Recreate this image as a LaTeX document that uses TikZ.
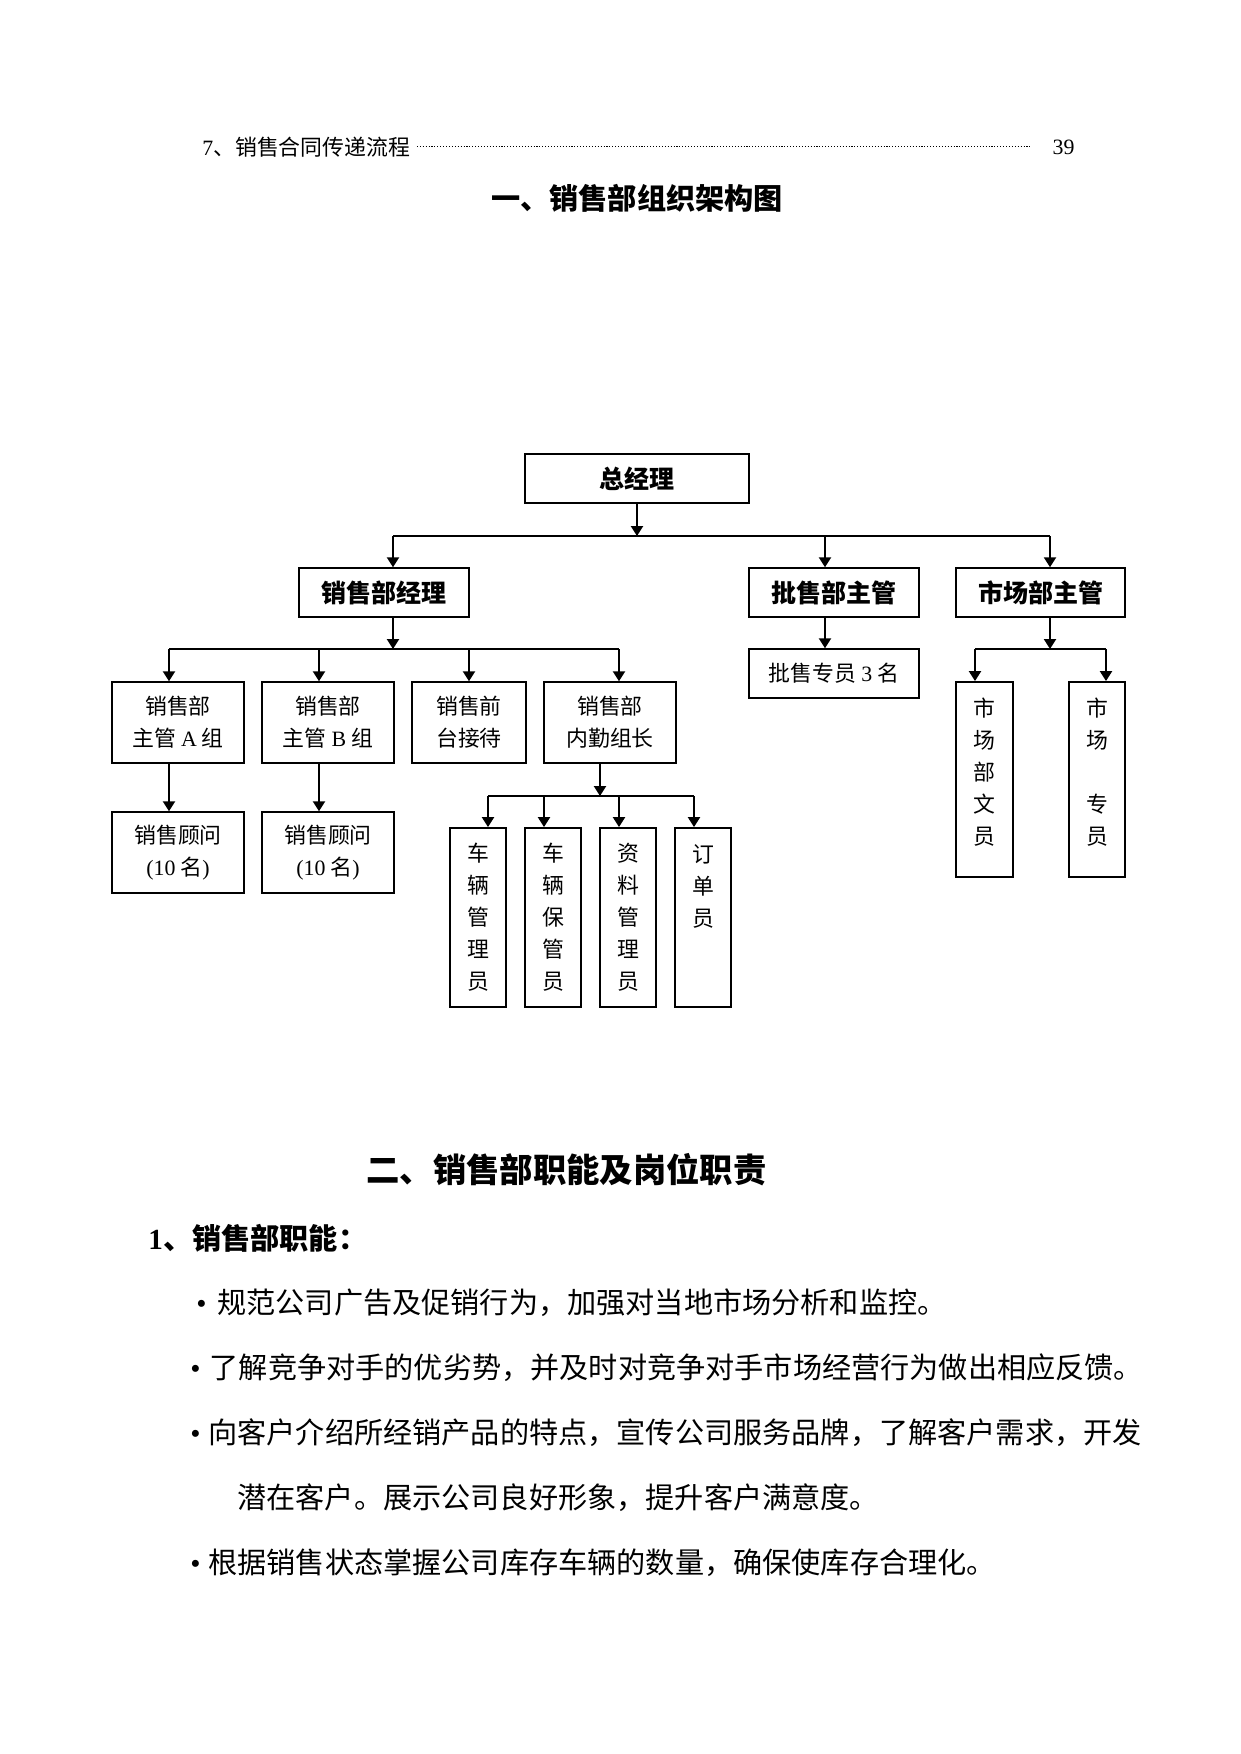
\documentclass[tikz,border=0pt]{standalone}
\usepackage{fontspec}
\setmainfont{Noto Sans CJK SC}
\newfontfamily\lat{Liberation Serif}
\usetikzlibrary{arrows.meta}
\begin{document}
\begin{tikzpicture}[x=0.48pt,y=-0.48pt,
 wh/.style 2 args={minimum width=#1*0.48pt,minimum height=#2*0.48pt},
 bx/.style={draw,line width=0.72pt,inner sep=0pt,align=center,font=\fontsize{10.5pt}{15.36pt}\selectfont},
 bbx/.style={bx,font=\fontsize{12pt}{14pt}\selectfont\bfseries},
 ln/.style={line width=0.96pt},
 arr/.style={ln,-{Triangle[length=4.8pt,width=5.8pt]}},
 body/.style={anchor=west,inner sep=0pt,font=\fontsize{14pt}{16pt}\selectfont}]
\useasboundingbox (0,0) rectangle (1241,1754);
\fill[white] (0,0) rectangle (1241,1754);

% header
\node[anchor=west,inner sep=0pt,font=\fontsize{10.5pt}{12pt}\selectfont] (h1) at (202,147) {{\lat 7}、销售合同传递流程};
\node[anchor=east,inner sep=0pt,font=\fontsize{10.5pt}{12pt}\selectfont] (h2) at (1075,147) {\lat 39};
\draw[line width=0.6pt,dash pattern=on 0.5pt off 0.9pt] ([xshift=3pt,yshift=0.3pt]h1.east) -- ([xshift=-10.5pt,yshift=0.3pt]h2.west);

% title
\node[inner sep=0pt,font=\fontsize{14pt}{16pt}\selectfont\bfseries] (t1) at (637,198) {一、销售部组织架构图};

% org chart boxes
\node[bbx,wh={224}{49}] (zjl) at (637,478.5) {总经理};
\node[bbx,wh={170}{49}] (xsjl) at (384,592.5) {销售部经理};
\node[bbx,wh={170}{49}] (pszg) at (834,592.5) {批售部主管};
\node[bbx,wh={169}{49}] (sczg) at (1040.5,592.5) {市场部主管};
\node[bx,wh={170}{49}] (psy) at (834,673.5) {批售专员 {\lat 3} 名};
\node[bx,wh={132}{81}] (zgA) at (178,722.5) {销售部\\主管 {\lat A} 组};
\node[bx,wh={132}{81}] (zgB) at (328,722.5) {销售部\\主管 {\lat B} 组};
\node[bx,wh={114}{81}] (qt) at (469,722.5) {销售前\\台接待};
\node[bx,wh={132}{81}] (nq) at (610,722.5) {销售部\\内勤组长};
\node[bx,wh={132}{81}] (gwA) at (178,852.5) {销售顾问\\{\lat (10} 名{\lat )}};
\node[bx,wh={132}{81}] (gwB) at (328,852.5) {销售顾问\\{\lat (10} 名{\lat )}};
\node[bx,wh={56}{179},line width=0.9pt] (v1) at (478,917.5) {车\\辆\\管\\理\\员};
\node[bx,wh={56}{179},line width=0.9pt] (v2) at (553,917.5) {车\\辆\\保\\管\\员};
\node[bx,wh={56}{179},line width=0.9pt] (v3) at (628,917.5) {资\\料\\管\\理\\员};
\node[bx,wh={56}{179},line width=0.9pt] (v4) at (703,917.5) {订\\单\\员\\\mbox{}\\\mbox{}};
\node[bx,wh={57}{195},line width=0.9pt,text depth=8pt] (m1) at (984.5,779.5) {市\\场\\部\\文\\员};
\node[bx,wh={56}{195},line width=0.9pt,text depth=8pt] (m2) at (1097,779.5) {市\\场\\\mbox{}\\专\\员};

% junction coordinates
\coordinate (b1L) at (393,536);
\coordinate (b1P) at (825,536);
\coordinate (b1R) at (1050,536);
\coordinate (b2A) at (169,649);
\coordinate (b2B) at (319,649);
\coordinate (b2Q) at (469,649);
\coordinate (b2N) at (619,649);
\coordinate (b2S) at (393,649);
\coordinate (b3S) at (600,796);
\coordinate (b3a) at (488,796);
\coordinate (b3b) at (544,796);
\coordinate (b3c) at (619,796);
\coordinate (b3d) at (694,796);
\coordinate (b4S) at (1050,649);
\coordinate (b4a) at (975,649);
\coordinate (b4b) at (1106,649);

% level 1
\draw[arr] (zjl.south) -- (zjl.south |- b1L);
\draw[ln] (b1L) -- (b1R);
\draw[arr] (b1L) -- (b1L |- xsjl.north);
\draw[arr] (b1P) -- (b1P |- pszg.north);
\draw[arr] (b1R) -- (b1R |- sczg.north);

% sales manager branch
\draw[arr] (b1L |- xsjl.south) -- (b2S);
\draw[ln] (b2A) -- (b2N);
\draw[arr] (b2A) -- (b2A |- zgA.north);
\draw[arr] (b2B) -- (b2B |- zgB.north);
\draw[arr] (b2Q) -- (b2Q |- qt.north);
\draw[arr] (b2N) -- (b2N |- nq.north);
\draw[arr] (b2A |- zgA.south) -- (b2A |- gwA.north);
\draw[arr] (b2B |- zgB.south) -- (b2B |- gwB.north);

% internal branch
\draw[arr] (b3S |- nq.south) -- (b3S);
\draw[ln] (b3a) -- (b3d);
\draw[arr] (b3a) -- (b3a |- v1.north);
\draw[arr] (b3b) -- (b3b |- v2.north);
\draw[arr] (b3c) -- (b3c |- v3.north);
\draw[arr] (b3d) -- (b3d |- v4.north);

% wholesale
\draw[arr] (b1P |- pszg.south) -- (b1P |- psy.north);

% market
\draw[arr] (b4S |- sczg.south) -- (b4S);
\draw[ln] (b4a) -- (b4b);
\draw[arr] (b4a) -- (b4a |- m1.north);
\draw[arr] (b4b) -- (b4b |- m2.north);

% section 2
\node[anchor=west,inner sep=0pt,font=\fontsize{16pt}{18pt}\selectfont\bfseries] (t2) at (366,1170) {二、销售部职能及岗位职责};
\node[anchor=west,inner sep=0pt,font=\fontsize{14pt}{16pt}\selectfont\bfseries] (s1) at (148,1238) {{\lat\bfseries 1}、销售部职能：};
\node[body] (l1) at (196,1303) {\makebox[10.1pt][l]{\lat •}规范公司广告及促销行为，加强对当地市场分析和监控。};
\node[body] (l2) at (190,1368) {\makebox[9.3pt][l]{\lat •}了解竞争对手的优劣势，并及时对竞争对手市场经营行为做出相应反馈。};
\node[body] (l3) at (190,1433) {\makebox[8.6pt][l]{\lat •}向客户介绍所经销产品的特点，宣传公司服务品牌，了解客户需求，开发};
\node[body] (l4) at (237,1498) {潜在客户。展示公司良好形象，提升客户满意度。};
\node[body] (l5) at (190,1563) {\makebox[8.6pt][l]{\lat •}根据销售状态掌握公司库存车辆的数量，确保使库存合理化。};
\end{tikzpicture}
\end{document}
